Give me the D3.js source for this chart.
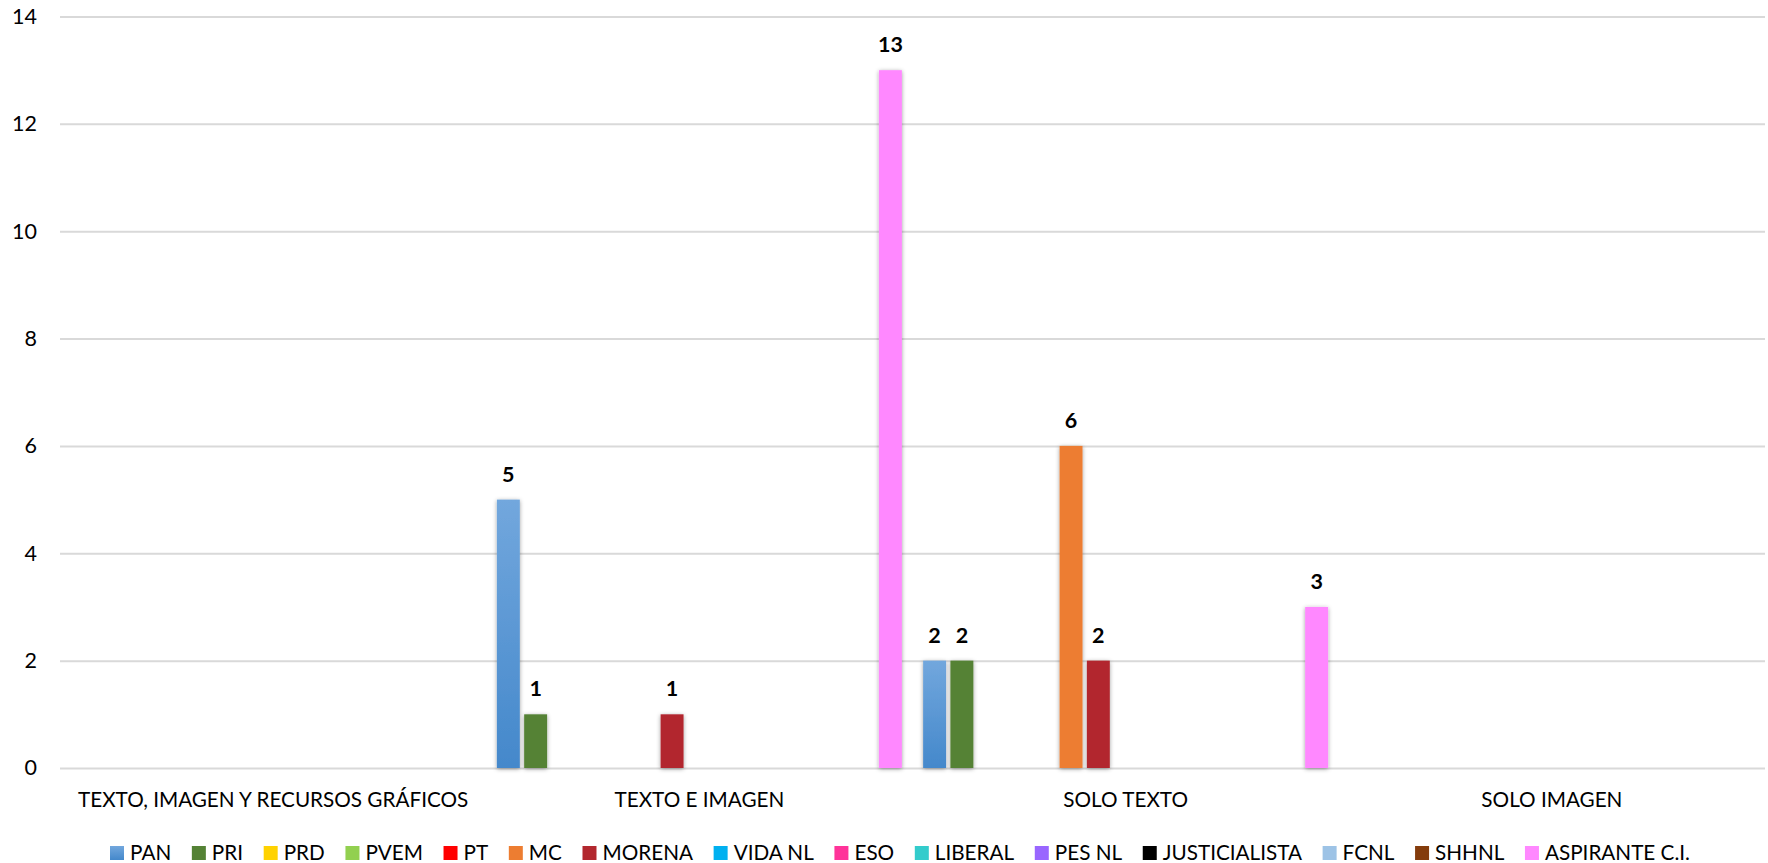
<!DOCTYPE html>
<html>
<head>
<meta charset="utf-8">
<script src="https://cdn.jsdelivr.net/npm/d3@7"></script>
<style>
  html, body { margin: 0; padding: 0; background: #ffffff; }
  svg { display: block; }
  text { font-family: Lato, "Open Sans", sans-serif; fill: #000; }
</style>
</head>
<body>
<svg id="chart" width="1768" height="863"></svg>
<script>
// ---- data ----
const categories = ["TEXTO, IMAGEN Y RECURSOS GRÁFICOS", "TEXTO E IMAGEN", "SOLO TEXTO", "SOLO IMAGEN"];
const seriesNames = ["PAN", "PRI", "PRD", "PVEM", "PT", "MC", "MORENA", "VIDA NL", "ESO", "LIBERAL", "PES NL", "JUSTICIALISTA", "FCNL", "SHHNL", "ASPIRANTE C.I."];
const PAN = [0, 5, 2, 0];
const PRI = [0, 1, 2, 0];
const PRD = [0, 0, 0, 0];
const PVEM = [0, 0, 0, 0];
const PT = [0, 0, 0, 0];
const MC = [0, 0, 6, 0];
const MORENA = [0, 1, 2, 0];
const VIDA_NL = [0, 0, 0, 0];
const ESO = [0, 0, 0, 0];
const LIBERAL = [0, 0, 0, 0];
const PES_NL = [0, 0, 0, 0];
const JUSTICIALISTA = [0, 0, 0, 0];
const FCNL = [0, 0, 0, 0];
const SHHNL = [0, 0, 0, 0];
const ASPIRANTE = [0, 13, 3, 0];
const yTicks = [0, 2, 4, 6, 8, 10, 12, 14];
const colors = ["#5b9bd5", "#548235", "#ffd200", "#92d050", "#ff0000", "#ed7d31", "#b2272e", "#00b0f0", "#ff3399", "#33cccc", "#9966ff", "#000000", "#9dc3e6", "#843c0c", "#ff88ff"];

const seriesValues = [PAN, PRI, PRD, PVEM, PT, MC, MORENA, VIDA_NL, ESO, LIBERAL, PES_NL, JUSTICIALISTA, FCNL, SHHNL, ASPIRANTE];

// ---- layout ----
const svg = d3.select("#chart");
const margin = { left: 60, right: 3, top: 16.5, bottom: 95 };
const W = 1768, H = 863;
const plotBottom = 768;

const x0 = d3.scaleBand().domain(categories).range([margin.left, W - margin.right]).paddingInner(0).paddingOuter(0);
const x1 = d3.scaleBand().domain(seriesNames).range([0, x0.bandwidth()]).paddingInner(0.16).paddingOuter(0.39);
const y = d3.scaleLinear().domain([0, 14]).range([plotBottom, margin.top]);
const color = d3.scaleOrdinal().domain(seriesNames).range(colors);

const defs = svg.append("defs");
const f = defs.append("filter").attr("id", "shadow").attr("x", "-50%").attr("y", "-10%").attr("width", "200%").attr("height", "120%");
f.append("feDropShadow").attr("dx", 0).attr("dy", 1).attr("stdDeviation", 2.2).attr("flood-color", "#000").attr("flood-opacity", 0.38);
const g1 = defs.append("linearGradient").attr("id", "panGrad").attr("x1", 0).attr("y1", 0).attr("x2", 0).attr("y2", 1);
g1.append("stop").attr("offset", "0%").attr("stop-color", "#72a7dd");
g1.append("stop").attr("offset", "100%").attr("stop-color", "#4488cb");

function fillFor(name) { return name === "PAN" ? "url(#panGrad)" : color(name); }

// gridlines
const yAxis = d3.axisLeft(y).tickValues(yTicks).tickSize(-(W - margin.right - margin.left)).tickPadding(23).tickFormat(d3.format("d"));
const gy = svg.append("g").attr("transform", `translate(${margin.left},0)`).call(yAxis);
gy.select(".domain").remove();
gy.selectAll(".tick line").attr("stroke", "#d9d9d9").attr("stroke-width", 2);
gy.selectAll(".tick text").attr("font-size", 21.5).attr("fill", "#000").style("font-family", "Lato, sans-serif");

// x axis labels
const xAxis = d3.axisBottom(x0).tickSize(0).tickPadding(0);
const gx = svg.append("g").attr("transform", `translate(0,${plotBottom})`).call(xAxis);
gx.select(".domain").remove();
gx.selectAll(".tick text").attr("font-size", 20.7).attr("dy", 0).attr("y", 39).attr("fill", "#000").style("font-family", "Lato, sans-serif");

// bars
const data = [];
categories.forEach((c, ci) => {
  seriesNames.forEach((s, si) => {
    data.push({ cat: c, series: s, value: seriesValues[si][ci] });
  });
});
const nonZero = data.filter(d => d.value > 0);

svg.append("g").selectAll("rect").data(nonZero).join("rect")
  .attr("x", d => x0(d.cat) + x1(d.series))
  .attr("y", d => y(d.value))
  .attr("width", x1.bandwidth())
  .attr("height", d => y(0) - y(d.value))
  .attr("fill", d => fillFor(d.series))
  .attr("filter", "url(#shadow)");

svg.append("g").selectAll("text").data(nonZero).join("text")
  .attr("x", d => x0(d.cat) + x1(d.series) + x1.bandwidth() / 2)
  .attr("y", d => y(d.value) - 18)
  .attr("text-anchor", "middle")
  .attr("font-size", 21.5)
  .attr("font-weight", "bold")
  .text(d => d.value);

// legend
const legend = svg.append("g");
const items = legend.selectAll("g").data(seriesNames).join("g");
items.append("rect").attr("width", 14).attr("height", 14).attr("y", 846).attr("fill", d => fillFor(d));
items.append("text").attr("x", 20).attr("y", 860).attr("font-size", 20.7).text(d => d);
const widths = [];
items.each(function () { widths.push(20 + d3.select(this).select("text").node().getComputedTextLength()); });
const legendStart = 110, legendEnd = 1690;
const sumW = d3.sum(widths);
const gap = (legendEnd - legendStart - sumW) / (seriesNames.length - 1);
let cx = legendStart;
items.each(function (d, i) {
  d3.select(this).attr("transform", `translate(${cx},0)`);
  cx += widths[i] + gap;
});
</script>
</body>
</html>
